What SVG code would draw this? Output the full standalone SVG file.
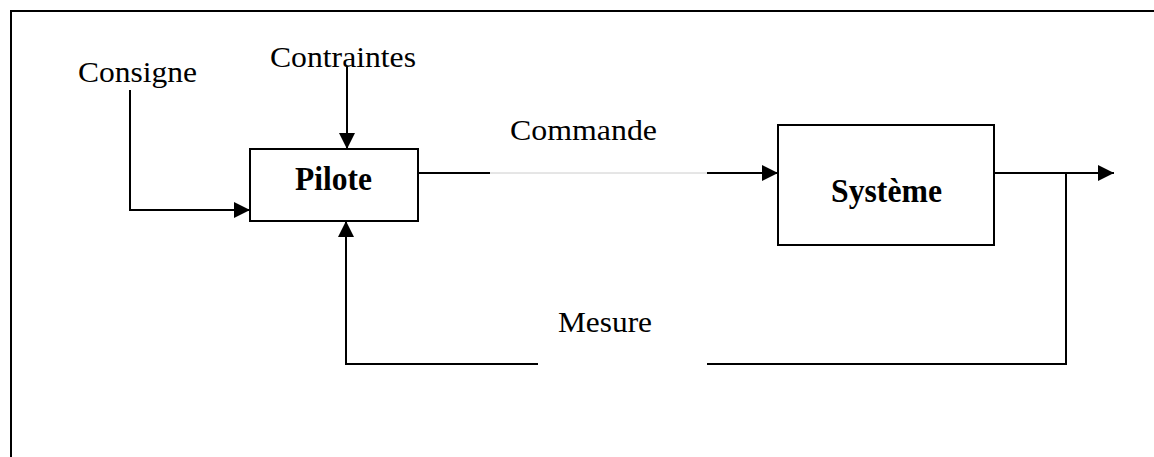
<svg xmlns="http://www.w3.org/2000/svg" width="1154" height="457" viewBox="0 0 1154 457">
<style>
.t{font-family:"Liberation Serif","Times New Roman",serif;font-size:30px;fill:#000}
.b{font-weight:bold;font-size:33px}
.box{fill:#fff;stroke:#000;stroke-width:2}
.ln{fill:none;stroke:#000;stroke-width:2}
</style>
<defs>
<marker id="ah" viewBox="0 0 16 16" refX="16" refY="8" markerWidth="16" markerHeight="16" markerUnits="userSpaceOnUse" orient="auto">
<path d="M0,0 L16,8 L0,16 Z" fill="#000"/>
</marker>
</defs>
<rect width="1154" height="457" fill="#fff"/>
<path d="M11,457 V11 H1154" fill="none" stroke="#000" stroke-width="2"/>
<g id="connectors">
<path class="ln" d="M130,90 V210 H250" marker-end="url(#ah)"/>
<path class="ln" d="M347,66 V149" marker-end="url(#ah)"/>
<path class="ln" d="M418,173 H490"/>
<path d="M490,173 H707" stroke="#cccccc" stroke-width="1" fill="none"/>
<path class="ln" d="M707,173 H778" marker-end="url(#ah)"/>
<path class="ln" d="M994,173 H1114" marker-end="url(#ah)"/>
<path class="ln" d="M1066,173 V364 H707"/>
<path class="ln" d="M538,364 H346 V221" marker-end="url(#ah)"/>
</g>
<g id="consigne"><text class="t" x="78" y="82" textLength="119" lengthAdjust="spacingAndGlyphs">Consigne</text></g>
<g id="contraintes"><text class="t" x="270" y="67" textLength="146" lengthAdjust="spacingAndGlyphs">Contraintes</text></g>
<g id="commande"><text class="t" x="510" y="140" textLength="147" lengthAdjust="spacingAndGlyphs">Commande</text></g>
<g id="mesure"><text class="t" x="558" y="332" textLength="94" lengthAdjust="spacingAndGlyphs">Mesure</text></g>
<g id="pilote">
<rect class="box" x="250" y="149" width="168" height="72"/>
<text class="t b" x="295" y="190" textLength="77" lengthAdjust="spacingAndGlyphs">Pilote</text>
</g>
<g id="systeme">
<rect class="box" x="778" y="125" width="216" height="120"/>
<text class="t b" x="831" y="202" textLength="111" lengthAdjust="spacingAndGlyphs">Système</text>
</g>
</svg>
